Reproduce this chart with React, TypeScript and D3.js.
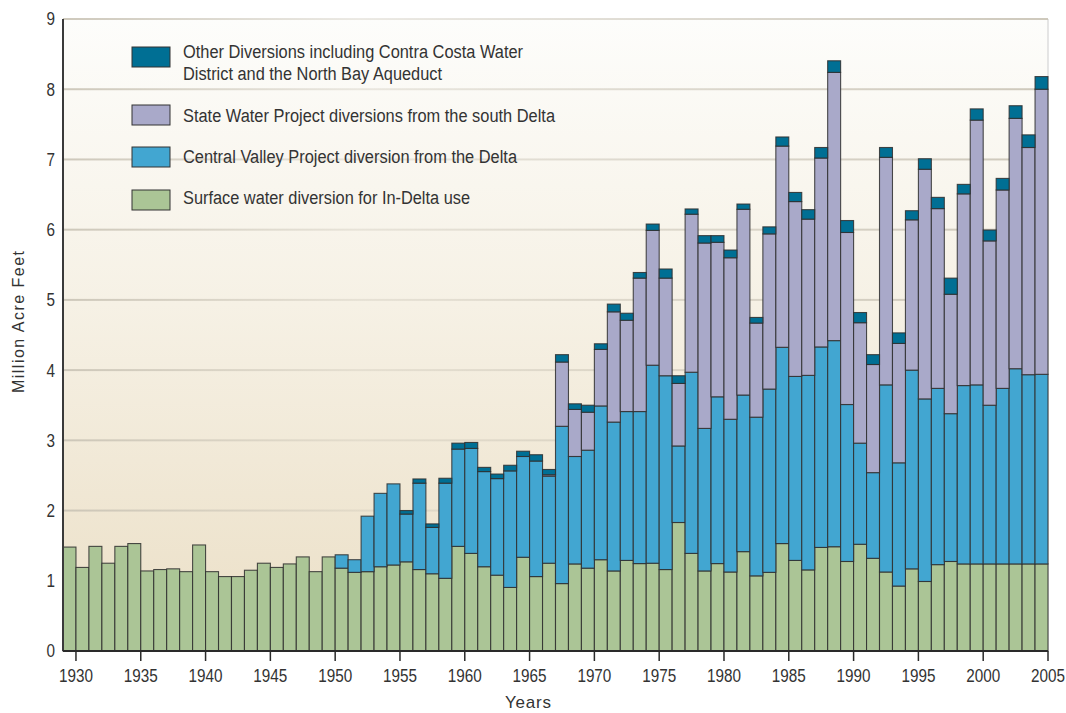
import React from "react";
import * as d3 from "d3";

const years: number[] = d3.range(1930, 2006);

const inDelta: number[] = [
  1.48, 1.19, 1.49, 1.25, 1.49, 1.53, 1.14, 1.16, 1.17, 1.13,
  1.51, 1.13, 1.06, 1.06, 1.15, 1.25, 1.19, 1.24, 1.34, 1.13,
  1.34, 1.18, 1.12, 1.13, 1.2, 1.225, 1.27, 1.16, 1.1, 1.035,
  1.49, 1.39, 1.2, 1.08, 0.905, 1.335, 1.06, 1.25, 0.96, 1.24,
  1.18, 1.3, 1.14, 1.29, 1.245, 1.25, 1.16, 1.83, 1.39, 1.14,
  1.245, 1.125, 1.415, 1.07, 1.12, 1.53, 1.29, 1.155, 1.475, 1.485,
  1.275, 1.52, 1.32, 1.125, 0.925, 1.17, 0.99, 1.23, 1.275, 1.24,
  1.24, 1.24, 1.24, 1.24, 1.24, 1.24,
];

const cvp: number[] = [
  0, 0, 0, 0, 0, 0, 0, 0, 0, 0,
  0, 0, 0, 0, 0, 0, 0, 0, 0, 0,
  0, 0.19, 0.18, 0.79, 1.045, 1.155, 0.68, 1.23, 0.66, 1.355,
  1.385, 1.495, 1.355, 1.375, 1.66, 1.435, 1.645, 1.24, 2.24, 1.53,
  1.68, 2.19, 2.12, 2.12, 2.165, 2.82, 2.76, 1.09, 2.58, 2.03,
  2.375, 2.175, 2.23, 2.26, 2.61, 2.795, 2.62, 2.77, 2.855, 2.935,
  2.235, 1.44, 1.22, 2.665, 1.755, 2.83, 2.6, 2.51, 2.105, 2.54,
  2.55, 2.26, 2.5, 2.78, 2.695, 2.7,
];

const swp: number[] = [
  0, 0, 0, 0, 0, 0, 0, 0, 0, 0,
  0, 0, 0, 0, 0, 0, 0, 0, 0, 0,
  0, 0, 0, 0, 0, 0, 0, 0, 0, 0,
  0, 0, 0, 0, 0, 0, 0, 0.02, 0.915, 0.67,
  0.54, 0.805, 1.57, 1.3, 1.9, 1.92, 1.39, 0.89, 2.25, 2.64,
  2.2, 2.3, 2.645, 1.34, 2.21, 2.865, 2.49, 2.225, 2.69, 3.82,
  2.45, 1.715, 1.54, 3.24, 1.7, 2.14, 3.27, 2.56, 1.7, 2.73,
  3.77, 2.34, 2.825, 3.565, 3.235, 4.06,
];

const other: number[] = [
  0, 0, 0, 0, 0, 0, 0, 0, 0, 0,
  0, 0, 0, 0, 0, 0, 0, 0, 0, 0,
  0, 0, 0, 0, 0, 0, 0.05, 0.06, 0.05, 0.07,
  0.085, 0.085, 0.06, 0.065, 0.08, 0.075, 0.09, 0.075, 0.105, 0.08,
  0.1, 0.08, 0.11, 0.1, 0.08, 0.09, 0.13, 0.11, 0.075, 0.105,
  0.095, 0.11, 0.075, 0.08, 0.1, 0.13, 0.13, 0.135, 0.15, 0.165,
  0.17, 0.145, 0.14, 0.14, 0.15, 0.13, 0.15, 0.16, 0.23, 0.135,
  0.16, 0.155, 0.165, 0.18, 0.18, 0.18,
];

const seriesKeys: string[] = ["inDelta", "cvp", "swp", "other"];
const seriesColors: string[] = ["#abc596", "#42a6d1", "#a9a9c9", "#006f94"];
const legendLabels: string[][] = [
  ["Other Diversions including Contra Costa Water", "District and the North Bay Aqueduct"],
  ["State Water Project diversions from the south Delta"],
  ["Central Valley Project diversion from the Delta"],
  ["Surface water diversion for In-Delta use"],
];
const legendWidths: number[][] = [[340, 259], [372], [334], [287]];
const legendOrder: number[] = [3, 2, 1, 0];
const yTicks: number[] = d3.range(0, 10);
const xTicks: number[] = d3.range(1930, 2006, 5);

const W = 1066;
const H = 713;
const FONT = "'Liberation Sans', Arial, sans-serif";

export default function App() {
  const left = 63;
  const right = 1048;
  const top = 19;
  const bottom = 651;

  const x = d3.scaleLinear().domain([1929, 2005]).range([left, right]);
  const y = d3.scaleLinear().domain([0, 9]).range([bottom, top]);

  const table = years.map((yr, i) => ({
    year: yr,
    inDelta: inDelta[i],
    cvp: cvp[i],
    swp: swp[i],
    other: other[i],
  }));
  const stacked = d3.stack<any>().keys(seriesKeys)(table);

  return (
    <div style={{ position: "absolute", left: 0, top: 0, width: W, height: H, overflow: "hidden" }}>
      <svg width={W} height={H} style={{ display: "block", background: "#fff" }}>
        <defs>
          <linearGradient id="bg" x1="0" y1="0" x2="0" y2="1">
            <stop offset="0" stopColor="#fdfdfb" />
            <stop offset="0.45" stopColor="#f6f1e5" />
            <stop offset="1" stopColor="#ebdfc6" />
          </linearGradient>
          <linearGradient id="grid" x1="0" y1="0" x2="1" y2="0">
            <stop offset="0" stopColor="#c9c3b5" stopOpacity="0.9" />
            <stop offset="0.3" stopColor="#c9c3b5" stopOpacity="0.35" />
            <stop offset="1" stopColor="#c9c3b5" stopOpacity="0.9" />
          </linearGradient>
        </defs>
        <rect x={left} y={top} width={right - left} height={bottom - top} fill="url(#bg)" />
        <line x1={right} x2={right} y1={top} y2={bottom} stroke="#dcdcdc" strokeWidth={1.5} />
        {yTicks.filter((t) => t > 0).map((t) => (
          <rect key={"g" + t} x={left} y={y(t) - 1} width={right - left} height={2} fill="url(#grid)" />
        ))}

        {stacked.map((layer, li) => (
          <g key={layer.key}>
            {layer.map((d: any, i: number) => {
              const h = y(d[0]) - y(d[1]);
              if (h <= 0.01) return null;
              const yr = years[i];
              return (
                <rect
                  key={yr}
                  x={x(yr - 1)}
                  y={y(d[1])}
                  width={x(yr) - x(yr - 1)}
                  height={h}
                  fill={seriesColors[li]}
                  stroke="#2e2e2e"
                  strokeOpacity={0.85}
                  strokeWidth={1.1}
                />
              );
            })}
          </g>
        ))}

        {/* axes */}
        <line x1={left} x2={left} y1={top} y2={bottom} stroke="#3a3a3a" strokeWidth={2} />
        <line x1={left} x2={right} y1={bottom} y2={bottom} stroke="#2a2a2a" strokeWidth={2} />
        {xTicks.map((t) => (
          <g key={"x" + t}>
            <line x1={x(t)} x2={x(t)} y1={bottom} y2={bottom + 10} stroke="#2a2a2a" strokeWidth={1.5} />
            <text
              x={x(t) - 17}
              y={682}
              textLength={34}
              lengthAdjust="spacingAndGlyphs"
              fontFamily={FONT}
              fontSize={18}
              fill="#333"
            >
              {t}
            </text>
          </g>
        ))}
        {yTicks.map((t) => (
          <text
            key={"y" + t}
            x={46.5}
            y={y(t)}
            dy="0.36em"
            textLength={8.5}
            lengthAdjust="spacingAndGlyphs"
            fontFamily={FONT}
            fontSize={18}
            fill="#333"
          >
            {t}
          </text>
        ))}

        <text
          x={505}
          y={708}
          textLength={46}
          lengthAdjust="spacing"
          fontFamily={FONT}
          fontSize={17}
          fill="#333"
        >
          Years
        </text>
        <text
          transform={`translate(24,393) rotate(-90)`}
          textLength={142}
          lengthAdjust="spacing"
          fontFamily={FONT}
          fontSize={16}
          fill="#333"
        >
          Million Acre Feet
        </text>

        {/* legend */}
        {legendOrder.map((si, k) => {
          const sy = [47, 105, 147, 190][k];
          const lines = legendLabels[k];
          const baseY = [58, 122, 163, 204][k];
          return (
            <g key={"l" + k}>
              <rect x={132} y={sy} width={38} height={20} fill={seriesColors[si]} stroke="#333" strokeWidth={1} />
              {lines.map((ln, j) => (
                <text
                  key={j}
                  x={183}
                  y={baseY + j * 22}
                  textLength={legendWidths[k][j]}
                  lengthAdjust="spacingAndGlyphs"
                  fontFamily={FONT}
                  fontSize={18}
                  fill="#333"
                >
                  {ln}
                </text>
              ))}
            </g>
          );
        })}
      </svg>
    </div>
  );
}
